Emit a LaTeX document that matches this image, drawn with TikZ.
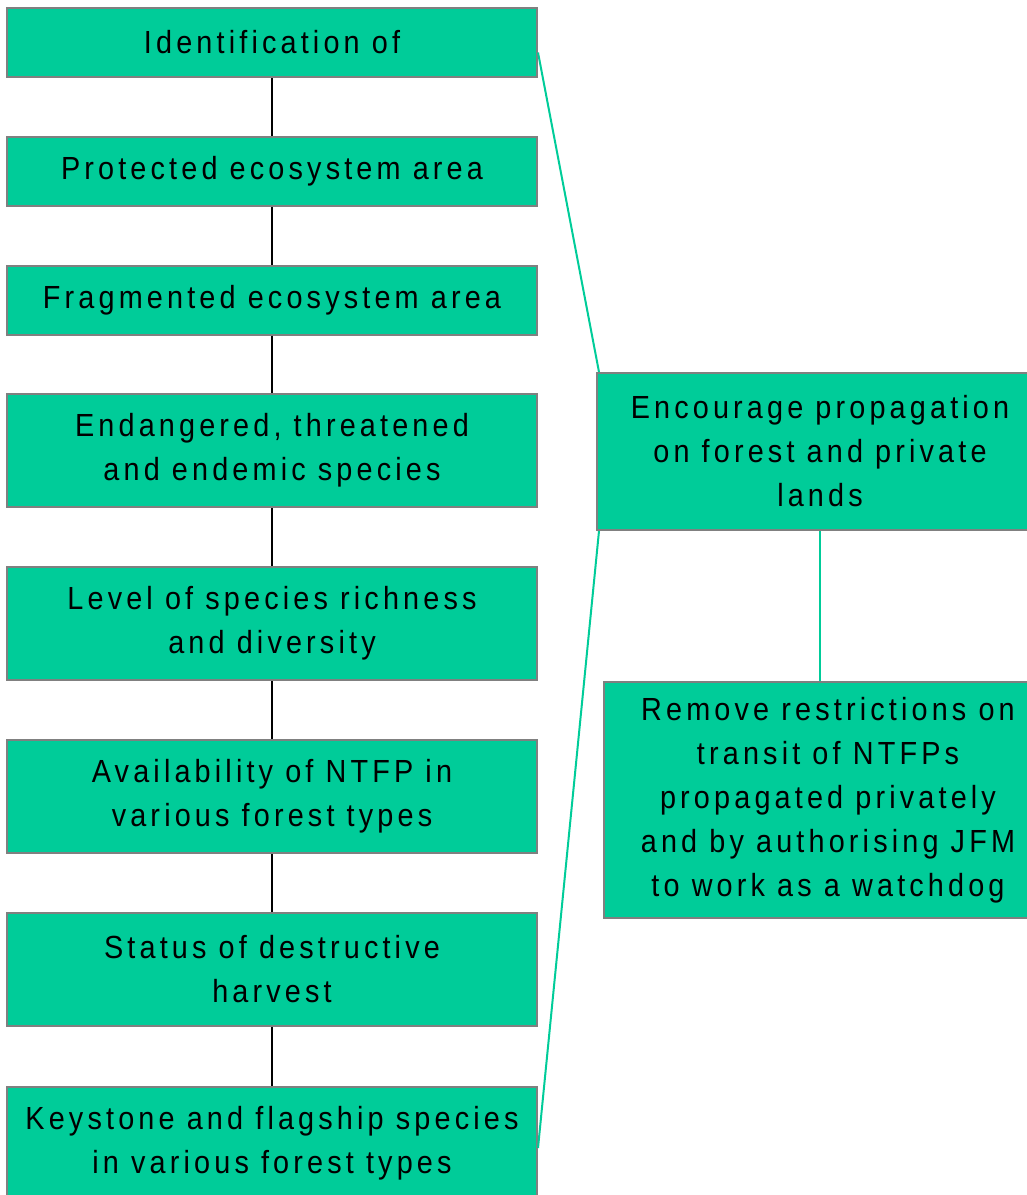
\documentclass[tikz,border=0pt]{standalone}
\usepackage{fontspec}
\setmainfont{Liberation Sans}[FakeStretch=0.9, LetterSpace=13, Ligatures=NoCommon]
\usetikzlibrary{calc}
\definecolor{boxfill}{HTML}{00CC99}
\definecolor{boxline}{HTML}{808080}
\definecolor{tealline}{HTML}{00CC99}
\tikzset{
  stepbox/.style={draw=boxline, line width=2pt, fill=boxfill, inner sep=0pt,
    align=center, font=\fontsize{32}{44}\selectfont, text=black},
  leftbox/.style={stepbox, minimum width=530pt},
  oneline/.style={minimum height=69pt},
  twoline/.style={minimum height=113pt},
  blackcon/.style={draw=black, line width=2pt},
  tealcon/.style={draw=tealline, line width=2pt}
}
\begin{document}
\begin{tikzpicture}[x=1pt, y=-1pt]
\useasboundingbox (0,0) rectangle (1027,1195);
\node[leftbox, oneline] (n1) at (272,42.5) {Identification of};
\node[leftbox, oneline] (n2) at (272,171.5) {Protected ecosystem area};
\node[leftbox, oneline] (n3) at (272,300) {Fragmented ecosystem area};
\node[leftbox, twoline] (n4) at (272,450.5) {Endangered, threatened\\and endemic species};
\node[leftbox, twoline] (n5) at (272,623.5) {Level of species richness\\and diversity};
\node[leftbox, twoline] (n6) at (272,796.5) {Availability of NTFP in\\various forest types};
\node[leftbox, twoline] (n7) at (272,969.5) {Status of destructive\\harvest};
\node[leftbox, twoline] (n8) at (272,1143.5) {Keystone and flagship species\\in various forest types};
\node[stepbox, minimum width=446pt, minimum height=157pt] (e1) at (820,451.5)
  {Encourage propagation\\on forest and private\\lands};
\node[stepbox, minimum width=448pt, minimum height=236pt] (r1) at (828,800)
  {Remove restrictions on\\transit of NTFPs\\propagated privately\\and by authorising JFM\\to work as a watchdog};
\draw[blackcon] (n1.south) -- (n2.north);
\draw[blackcon] (n2.south) -- (n3.north);
\draw[blackcon] (n3.south) -- (n4.north);
\draw[blackcon] (n4.south) -- (n5.north);
\draw[blackcon] (n5.south) -- (n6.north);
\draw[blackcon] (n6.south) -- (n7.north);
\draw[blackcon] (n7.south) -- (n8.north);
\draw[tealcon] ([yshift=-10pt]n1.east) -- ([xshift=3pt]e1.north west);
\draw[tealcon] ([xshift=3pt]e1.south west) -- ([yshift=-4.5pt]n8.east);
\draw[tealcon] (e1.south) -- (e1.south |- r1.north);
\end{tikzpicture}
\end{document}
